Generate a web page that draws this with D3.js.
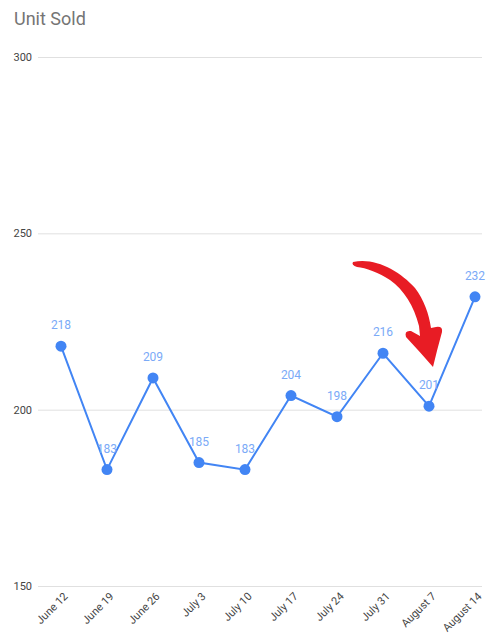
<!DOCTYPE html>
<html>
<head>
<meta charset="utf-8">
<script src="https://cdn.jsdelivr.net/npm/d3@7"></script>
<style>
  html, body { margin: 0; padding: 0; background: #fff; }
  svg { display: block; font-family: Roboto, Arial, "Liberation Sans", sans-serif; }
</style>
</head>
<body>
<svg id="chart" width="488" height="634"></svg>
<script>
const categories = ["June 12", "June 19", "June 26", "July 3", "July 10", "July 17", "July 24", "July 31", "August 7", "August 14"];
const unitsSold = [218, 183, 209, 185, 183, 204, 198, 216, 201, 232];
const yTicks = [150, 200, 250, 300];
const title = "Unit Sold";

const svg = d3.select("#chart");
const x = d3.scalePoint().domain(categories).range([61, 475]);
const y = d3.scaleLinear().domain([150, 300]).range([586, 57]);

svg.append("text").attr("x", 14).attr("y", 25)
  .attr("font-size", 18).attr("fill", "#757575").text(title);

// gridlines
const yAxis = d3.axisLeft(y).tickValues(yTicks).tickSize(-444).tickPadding(6);
const gy = svg.append("g").attr("transform", "translate(38,0)").call(yAxis);
gy.select(".domain").remove();
gy.selectAll(".tick line").attr("stroke", "#e0e0e0").attr("stroke-width", 1);
gy.selectAll(".tick text").attr("fill", "#444").attr("font-size", 11)
  .attr("font-family", "Roboto, Arial, sans-serif");

// x axis labels
const xAxis = d3.axisBottom(x).tickSize(0).tickPadding(0);
const gx = svg.append("g").attr("transform", "translate(0,586)").call(xAxis);
gx.select(".domain").remove();
gx.selectAll(".tick text")
  .attr("fill", "#444").attr("font-size", 11)
  .attr("font-family", "Roboto, Arial, sans-serif")
  .attr("text-anchor", "end")
  .attr("dy", 0)
  .attr("transform", "translate(7,11) rotate(-45)");

// line
const data = categories.map((c, i) => ({ c, v: unitsSold[i] }));
svg.append("path").datum(data)
  .attr("fill", "none").attr("stroke", "#4285f4").attr("stroke-width", 2)
  .attr("d", d3.line().x(d => x(d.c)).y(d => y(d.v)));

svg.selectAll("circle.pt").data(data).join("circle")
  .attr("class", "pt")
  .attr("cx", d => x(d.c)).attr("cy", d => y(d.v)).attr("r", 5.5)
  .attr("fill", "#4285f4");

svg.selectAll("text.lbl").data(data).join("text")
  .attr("class", "lbl")
  .attr("x", d => x(d.c)).attr("y", d => y(d.v) - 17)
  .attr("text-anchor", "middle").attr("font-size", 12)
  .attr("fill", "#7baaf7").text(d => d.v);

// red hand-drawn arrow annotation
svg.append("path").attr("fill", "#e81c24").attr("d",
  "M353,262 C375,257 400,271 415,288 C424,300 429,314 431,328 " +
  "L436,327 Q443,326 442,332 Q437,350 433,367 Q420,352 406,337 Q404,330 411,331 L420,336 " +
  "L419,326 C414,306 404,290 390,280 C378,272 366,268 357,267 Q351,265 353,262 Z");
</script>
</body>
</html>
